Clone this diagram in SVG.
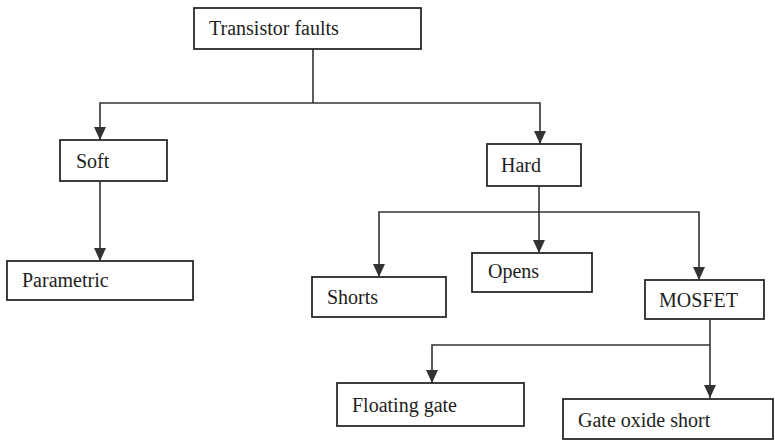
<svg xmlns="http://www.w3.org/2000/svg" width="775" height="440" viewBox="0 0 775 440">
<style>
.box{fill:#fff;stroke:#2a2a2a;stroke-width:1.8}
.lbl{font-family:"Liberation Serif","Times New Roman",serif;font-size:20px;fill:#1e1e1e}
.con{fill:none;stroke:#333;stroke-width:1.6}
</style>
<defs>
<marker id="ah" viewBox="0 0 13 12" refX="13" refY="6" markerWidth="13" markerHeight="12" markerUnits="userSpaceOnUse" orient="auto">
<path d="M0,0 L13,6 L0,12 z" fill="#333"/>
</marker>
</defs>
<rect width="775" height="440" fill="#fff"/>
<g id="connectors">
<path class="con" d="M313,49 V103"/>
<path class="con" d="M313,103 H100 V140" marker-end="url(#ah)"/>
<path class="con" d="M313,103 H540 V144" marker-end="url(#ah)"/>
<path class="con" d="M100,181 V261" marker-end="url(#ah)"/>
<path class="con" d="M539,186 V253" marker-end="url(#ah)"/>
<path class="con" d="M539,212 H379 V277" marker-end="url(#ah)"/>
<path class="con" d="M539,212 H699 V280" marker-end="url(#ah)"/>
<path class="con" d="M710,319 V398" marker-end="url(#ah)"/>
<path class="con" d="M710,345 H432 V383" marker-end="url(#ah)"/>
</g>
<g id="n-transistor"><rect class="box" x="194" y="8" width="227" height="41"/><text class="lbl" x="209" y="35">Transistor faults</text></g>
<g id="n-soft"><rect class="box" x="60" y="140" width="107" height="41"/><text class="lbl" x="76" y="168">Soft</text></g>
<g id="n-hard"><rect class="box" x="487" y="144" width="94" height="42"/><text class="lbl" x="501" y="172">Hard</text></g>
<g id="n-parametric"><rect class="box" x="7" y="261" width="186" height="39"/><text class="lbl" x="22" y="287">Parametric</text></g>
<g id="n-shorts"><rect class="box" x="312" y="277" width="134" height="40"/><text class="lbl" x="327" y="304">Shorts</text></g>
<g id="n-opens"><rect class="box" x="472" y="253" width="120" height="39"/><text class="lbl" x="488" y="278">Opens</text></g>
<g id="n-mosfet"><rect class="box" x="645" y="280" width="119" height="39"/><text class="lbl" x="659" y="307">MOSFET</text></g>
<g id="n-floating"><rect class="box" x="337" y="383" width="187" height="43"/><text class="lbl" x="352" y="412">Floating gate</text></g>
<g id="n-gateoxide"><rect class="box" x="563" y="399" width="210" height="40"/><text class="lbl" x="578" y="427">Gate oxide short</text></g>
</svg>
